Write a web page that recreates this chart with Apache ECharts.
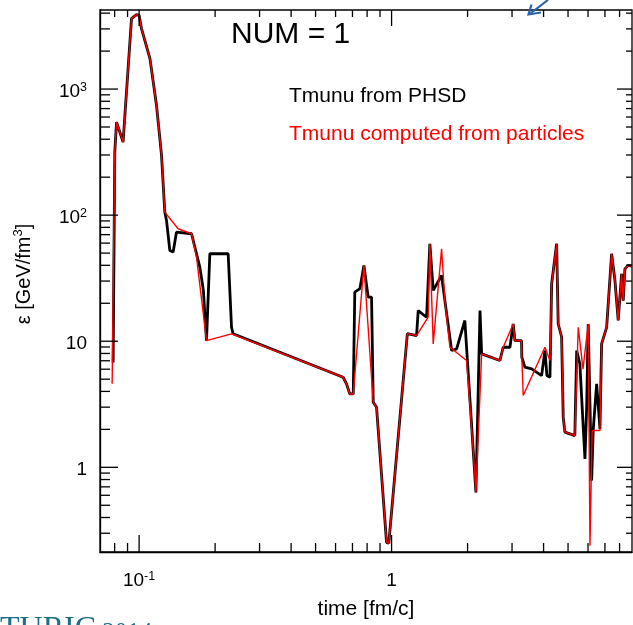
<!DOCTYPE html>
<html><head><meta charset="utf-8">
<script src="https://cdn.jsdelivr.net/npm/echarts@6/dist/echarts.min.js"></script>
<style>html,body{margin:0;padding:0;background:#fff}#c{width:633px;height:625px}</style>
</head><body><div id="c"></div><script>
// ---- data ----
const timePHSD = [0.0789,0.0801,0.0814,0.0864,0.0933,0.0977,0.1,0.1022,0.1104,0.1172,0.1227,0.1264,0.1284,0.1323,0.1364,0.1406,0.1613,0.174,0.1797,0.1849,0.1906,0.2253,0.2288,0.2323,0.2357,0.643,0.663,0.683,0.705,0.715,0.749,0.777,0.808,0.833,0.846,0.872,0.955,0.975,1.155,1.256,1.275,1.376,1.418,1.462,1.578,1.626,1.729,1.81,1.951,1.993,2.106,2.158,2.24,2.274,2.686,2.768,2.943,3.032,3.08,3.273,3.28,3.374,3.587,3.929,4.05,4.124,4.24,4.305,4.506,4.571,4.716,4.785,4.86,5.32,5.41,5.57,5.66,5.834,5.926,6.01,6.2,6.29,6.49,6.69,6.79,7.11,7.44,7.67,7.9,8.15,8.27,8.4,8.64,8.96];
const epsPHSD  = [6.78,316,547,380,3621,3893,3845,3015,1743,743,298,105.6,90.8,52.5,50.9,73.3,71.2,38.7,25.3,10.1,49.4,49.4,47.9,12.9,11.45,5.18,4.59,3.82,3.82,24.5,26.1,39.9,22.4,22.4,3.28,2.99,0.254,0.25,11.5,11.1,17.5,15.5,59.3,25.3,33.2,21.0,8.44,8.7,14.6,7.46,1.357,0.633,17.5,7.94,7.03,8.96,8.96,13.7,10.1,10.1,7.46,6.22,6.04,5.34,8.44,5.34,5.18,28.5,59.3,13.7,10.8,2.49,1.9,1.785,8.44,6.62,3.59,1.166,2.99,13.7,0.784,1.96,4.59,2.02,9.53,12.9,49.4,30.3,14.6,34.3,21.0,37.5,39.9,39.5];
const timePart = [0.0782,0.0801,0.0814,0.0864,0.0933,0.0977,0.1,0.1022,0.1104,0.1172,0.1227,0.1264,0.1427,0.1613,0.1688,0.1849,0.2323,0.643,0.663,0.683,0.705,0.777,0.846,0.872,0.955,0.975,1.155,1.256,1.396,1.418,1.462,1.578,1.626,1.702,1.982,2.106,2.158,2.274,2.686,2.768,3.032,3.08,3.273,3.28,3.322,4.05,4.24,4.305,4.506,4.571,4.716,4.785,4.86,5.32,5.487,5.73,6.01,6.107,6.23,6.69,6.79,7.11,7.44,7.67,7.9,8.15,8.27,8.4,8.64,8.96];
const epsPart  = [4.6,316,547,380,3621,3893,3845,3015,1743,743,298,105.6,78.0,71.2,46.4,10.1,11.45,5.18,4.59,3.82,3.82,39.9,3.28,2.99,0.254,0.25,11.5,11.1,15.5,59.3,9.53,54.1,21.0,8.96,7.03,1.357,0.633,7.94,7.03,8.96,13.7,10.1,10.1,7.46,3.71,8.96,7.03,28.5,59.3,13.7,10.8,2.49,1.9,1.785,12.9,6.0,13.7,0.239,1.96,1.96,9.53,12.9,49.4,30.3,14.6,34.3,21.0,37.5,39.9,39.5];
const xMajorTicks = [0.1, 1];
const xMinorTicks = [0.08,0.09,0.2,0.3,0.4,0.5,0.6,0.7,0.8,0.9,2,3,4,5,6,7,8];
const yMajorTicks = [1, 10, 100, 1000];
const yMinorTicks = [0.3,0.4,0.5,0.6,0.7,0.8,0.9,2,3,4,5,6,7,8,9,20,30,40,50,60,70,80,90,200,300,400,500,600,700,800,900,2000,3000,4000];
const nameA = 'Tmunu from PHSD';
const nameB = 'Tmunu computed from particles';

const FONT = "'Liberation Sans', Arial, Helvetica, sans-serif";
const SERIF = "'Liberation Serif', 'DejaVu Serif', serif";
const zip = (a, b) => a.map((v, i) => [v, b[i]]);
function isPow(v, p) { return Math.abs(Math.log10(v) - p) < 1e-6; }

const chart = echarts.init(document.getElementById('c'), null, {renderer: 'canvas'});
const richLbl = {
  b: {fontSize: 19, lineHeight: 22, fontFamily: FONT, color: '#000'},
  s: {fontSize: 12.5, lineHeight: 12, verticalAlign: 'top', fontFamily: FONT, color: '#000'}
};

function tickSeries(vals, major, isX) {
  const data = vals.map(v => isX ? [v, 1] : [1, v]);
  return {
    type: 'custom', silent: true, z: 5, animation: false,
    data: data,
    renderItem: function (params, api) {
      const cs = params.coordSys;
      const p = api.coord([api.value(0), api.value(1)]);
      const st = {stroke: '#000', lineWidth: 1.3};
      if (isX) {
        const lb = major ? 17 : 9, lt = major ? 16 : 7;
        const yb = cs.y + cs.height, yt = cs.y;
        return {type: 'group', children: [
          {type: 'line', shape: {x1: p[0], y1: yb, x2: p[0], y2: yb - lb}, style: st},
          {type: 'line', shape: {x1: p[0], y1: yt, x2: p[0], y2: yt + lt}, style: st}
        ]};
      } else {
        const ll = major ? 18 : 10, lr = major ? 15 : 6;
        const xl = cs.x, xr = cs.x + cs.width;
        return {type: 'group', children: [
          {type: 'line', shape: {x1: xl, y1: p[1], x2: xl + ll, y2: p[1]}, style: st},
          {type: 'line', shape: {x1: xr, y1: p[1], x2: xr - lr, y2: p[1]}, style: st}
        ]};
      }
    }
  };
}

chart.setOption({
  animation: false,
  backgroundColor: '#fff',
  grid: {left: 100, right: 1, top: 10, bottom: 73, show: true, borderColor: '#000', borderWidth: 1.3, backgroundColor: 'transparent'},
  legend: {
    orient: 'vertical', left: 279, top: 80, itemGap: 17, icon: 'none',
    itemWidth: 0, itemHeight: 22, selectedMode: false,
    textStyle: {fontSize: 21, fontFamily: FONT},
    data: [{name: nameA, textStyle: {color: '#000'}}, {name: nameB, textStyle: {color: '#ff0000'}}]
  },
  xAxis: {
    type: 'log', logBase: 10, min: 0.07, max: 8.96,
    axisLine: {show: true, lineStyle: {color: '#000', width: 1.3}},
    axisTick: {show: false}, splitLine: {show: false}, minorTick: {show: false},
    axisLabel: {
      margin: 18, showMinLabel: false, showMaxLabel: false, rich: richLbl,
      formatter: v => isPow(v, -1) ? '{b|10}{s|-1}' : (isPow(v, 0) ? '{b|1}' : '')
    },
    name: 'time [fm/c]', nameLocation: 'middle', nameGap: 47,
    nameTextStyle: {fontSize: 21, fontFamily: FONT, color: '#000'}
  },
  yAxis: {
    type: 'log', logBase: 10, min: 0.213, max: 4236,
    axisLine: {show: true, lineStyle: {color: '#000', width: 1.3}},
    axisTick: {show: false}, splitLine: {show: false}, minorTick: {show: false},
    axisLabel: {
      margin: 13, showMinLabel: false, showMaxLabel: false, rich: richLbl, padding: [5, 0, 0, 0],
      formatter: v => isPow(v, 0) ? '{b|1}' : isPow(v, 1) ? '{b|10}' : isPow(v, 2) ? '{b|10}{s|2}' : isPow(v, 3) ? '{b|10}{s|3}' : ''
    },
    name: '{t|ε [GeV/fm}{u|3}{t|]}', nameLocation: 'middle', nameGap: 64,
    nameTextStyle: {
      padding: [0, 0, 0, 14],
      rich: {
        t: {fontSize: 20, lineHeight: 24, fontFamily: FONT, color: '#000'},
        u: {fontSize: 13, lineHeight: 13, verticalAlign: 'top', fontFamily: FONT, color: '#000'}
      }
    }
  },
  graphic: [
    {type: 'text', left: 231, top: 20, style: {text: 'NUM = 1', font: "30px 'Liberation Sans', Arial, sans-serif", fill: '#000'}},
    {type: 'text', left: 0, top: 614, style: {
      text: '{a|TURIC}{c| 2014}', fill: '#1c6e86',
      rich: {a: {fontSize: 32, fontFamily: SERIF, fill: '#1c6e86', verticalAlign: 'bottom', lineHeight: 36},
             c: {fontSize: 25, fontFamily: SERIF, fill: '#1c6e86', verticalAlign: 'bottom', lineHeight: 36}}
    }},
    {type: 'polyline', shape: {points: [[548, 0], [529, 14.5]]}, style: {stroke: '#2a63ad', lineWidth: 2.2, fill: null}},
    {type: 'polyline', shape: {points: [[531.5, 4.5], [528.5, 14.5], [541, 12.5]]}, style: {stroke: '#2a63ad', lineWidth: 2.2, fill: null}}
  ],
  series: [
    {name: nameA, type: 'line', data: zip(timePHSD, epsPHSD), showSymbol: false, symbol: 'none',
     lineStyle: {color: '#000', width: 2.8}, itemStyle: {color: '#000'}, z: 3, clip: true},
    {name: nameB, type: 'line', data: zip(timePart, epsPart), showSymbol: false, symbol: 'none',
     lineStyle: {color: '#ff0000', width: 1.4}, itemStyle: {color: '#ff0000'}, z: 4, clip: true},
    tickSeries(xMajorTicks, true, true),
    tickSeries(xMinorTicks, false, true),
    tickSeries(yMajorTicks, true, false),
    tickSeries(yMinorTicks, false, false)
  ]
});
</script></body></html>
